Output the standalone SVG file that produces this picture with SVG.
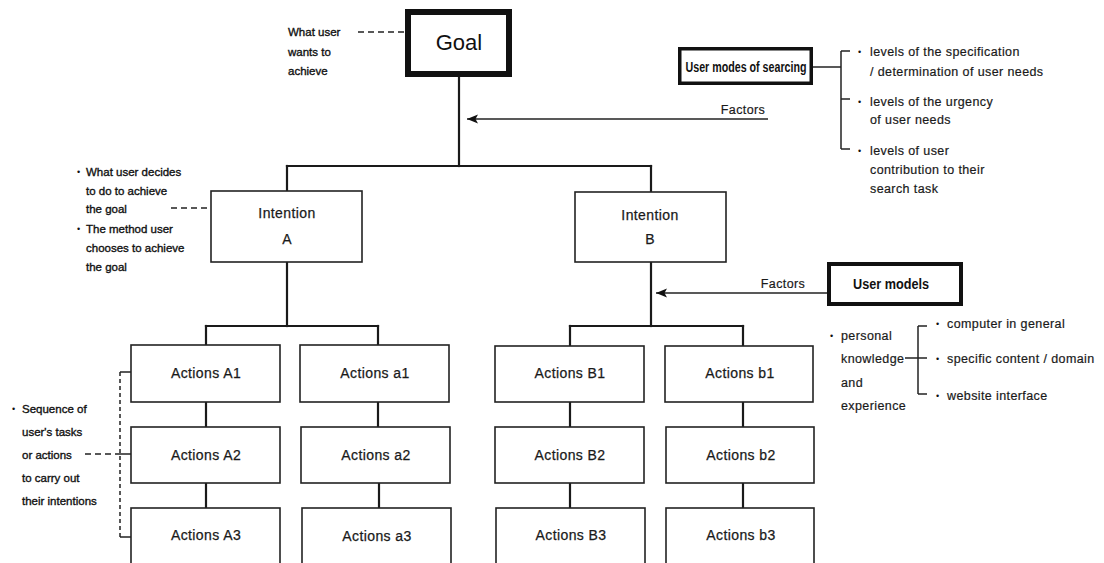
<svg xmlns="http://www.w3.org/2000/svg" width="1104" height="563" viewBox="0 0 1104 563">
  <defs>
    <marker id="arrowhead" markerUnits="userSpaceOnUse" markerWidth="12" markerHeight="10" refX="11" refY="5" orient="auto">
      <path d="M0,0.5 L11,5 L0,9.5 L2.5,5 Z" fill="#111"/>
    </marker>
    <style>
      .box { fill: #fff; stroke: #222; stroke-width: 1.6; }
      .thick { fill: #fff; stroke: #111; }
      .wire { fill: none; stroke: #1a1a1a; stroke-width: 2.2; stroke-linecap: square; }
      .thin { fill: none; stroke: #222; stroke-width: 1.5; }
      .dash { fill: none; stroke: #222; stroke-width: 1.5; stroke-dasharray: 6 4; }
      .vdash { fill: none; stroke: #222; stroke-width: 1.5; stroke-dasharray: 4 3; }
      .label { font-family: "Liberation Sans", Arial, sans-serif; font-size: 14px; letter-spacing: 0.4px; fill: #1a1a1a; stroke: #1a1a1a; stroke-width: 0.25px; text-anchor: middle; }
      .note { font-family: "Liberation Sans", Arial, sans-serif; font-size: 11.5px; fill: #111; stroke: #111; stroke-width: 0.35px; }
      .din { font-family: "Liberation Sans", Arial, sans-serif; font-size: 12.5px; letter-spacing: 0.4px; fill: #1a1a1a; stroke: #1a1a1a; stroke-width: 0.2px; }
      .dot { font-family: "Liberation Sans", Arial, sans-serif; font-size: 9px; fill: #111; }
      .bold { font-family: "Liberation Sans", Arial, sans-serif; font-size: 14.5px; font-weight: bold; fill: #111; text-anchor: middle; }
    </style>
  </defs>

  <rect width="1104" height="563" fill="#fff"/>

  <!-- tree connectors and factor arrows -->
  <g id="connectors">
    <line class="wire" x1="459" y1="77" x2="459" y2="166"/>
    <line class="wire" x1="287" y1="166" x2="651" y2="166"/>
    <line class="wire" x1="287" y1="166" x2="287" y2="191"/>
    <line class="wire" x1="651" y1="166" x2="651" y2="192"/>

    <line class="wire" x1="287" y1="262" x2="287" y2="326"/>
    <line class="wire" x1="206" y1="326" x2="378" y2="326"/>
    <line class="wire" x1="206" y1="326" x2="206" y2="345"/>
    <line class="wire" x1="378" y1="326" x2="378" y2="345"/>

    <line class="wire" x1="651" y1="262" x2="651" y2="326"/>
    <line class="wire" x1="570" y1="326" x2="743" y2="326"/>
    <line class="wire" x1="570" y1="326" x2="570" y2="345"/>
    <line class="wire" x1="743" y1="326" x2="743" y2="345"/>

    <line class="wire" x1="206" y1="402" x2="206" y2="427"/>
    <line class="wire" x1="206" y1="483" x2="206" y2="508"/>
    <line class="wire" x1="378" y1="402" x2="378" y2="427"/>
    <line class="wire" x1="379" y1="483" x2="379" y2="508"/>
    <line class="wire" x1="570" y1="402" x2="570" y2="427"/>
    <line class="wire" x1="570" y1="483" x2="570" y2="508"/>
    <line class="wire" x1="743" y1="402" x2="743" y2="427"/>
    <line class="wire" x1="743" y1="483" x2="743" y2="508"/>

    <!-- factor arrows -->
    <line class="thin" x1="768" y1="119" x2="467" y2="119" stroke-width="2" marker-end="url(#arrowhead)"/>
    <line class="thin" x1="827" y1="293" x2="656" y2="293" stroke-width="2" marker-end="url(#arrowhead)"/>

    <!-- annotation leaders -->
    <line class="dash" x1="358" y1="32" x2="404" y2="32"/>
    <line class="dash" x1="171" y1="208" x2="210" y2="208"/>
    <line class="dash" x1="85" y1="454" x2="120" y2="454"/>
    <line class="vdash" x1="120" y1="372" x2="120" y2="537"/>
    <line class="thin" x1="120" y1="372" x2="131" y2="372"/>
    <line class="thin" x1="120" y1="454" x2="131" y2="454"/>
    <line class="thin" x1="120" y1="537" x2="131" y2="537"/>

    <!-- brackets -->
    <line class="thin" x1="813" y1="67" x2="841" y2="67"/>
    <line class="thin" x1="841" y1="51" x2="841" y2="149"/>
    <line class="thin" x1="841" y1="51" x2="850" y2="51"/>
    <line class="thin" x1="841" y1="99" x2="850" y2="99"/>
    <line class="thin" x1="841" y1="149" x2="850" y2="149"/>

    <line class="thin" x1="905" y1="358" x2="927" y2="358"/>
    <line class="thin" x1="918" y1="326" x2="918" y2="394"/>
    <line class="thin" x1="918" y1="326" x2="927" y2="326"/>
    <line class="thin" x1="918" y1="394" x2="927" y2="394"/>
  </g>

  <g id="goal">
    <rect class="thick" x="408" y="12" width="101" height="62" stroke-width="6"/>
    <text x="459" y="50" font-family="Liberation Sans, Arial, sans-serif" font-size="22" text-anchor="middle" fill="#111">Goal</text>
  </g>

  <g id="goal-note">
    <text class="note" x="288" y="36">What user</text>
    <text class="note" x="288" y="56">wants to</text>
    <text class="note" x="288" y="75">achieve</text>
  </g>

  <g id="user-modes">
    <rect class="thick" x="679.75" y="48.75" width="131.5" height="34.5" stroke-width="3.5"/>
    <text class="bold" x="746" y="72" textLength="121" lengthAdjust="spacingAndGlyphs">User modes of searcing</text>
  </g>

  <g id="user-modes-list">
    <text class="dot" x="858" y="54.5">•</text>
    <text class="din" x="870" y="55.5">levels of the specification</text>
    <text class="din" x="870" y="76">/ determination of user needs</text>
    <text class="dot" x="858" y="104.5">•</text>
    <text class="din" x="870" y="105.5">levels of the urgency</text>
    <text class="din" x="870" y="123.5">of user needs</text>
    <text class="dot" x="858" y="153.5">•</text>
    <text class="din" x="870" y="154.5">levels of user</text>
    <text class="din" x="870" y="173.5">contribution to their</text>
    <text class="din" x="870" y="192.5">search task</text>
  </g>

  <g id="factors-top">
    <text class="din" x="743" y="113.5" text-anchor="middle">Factors</text>
  </g>

  <g id="intention-a">
    <rect class="box" x="211" y="191" width="151" height="71"/>
    <text class="label" x="287" y="218">Intention</text>
    <text class="label" x="287" y="244">A</text>
  </g>

  <g id="intention-a-note">
    <text class="dot" x="77" y="175">•</text>
    <text class="note" x="86" y="176">What user decides</text>
    <text class="note" x="86" y="195">to do to achieve</text>
    <text class="note" x="86" y="213">the goal</text>
    <text class="dot" x="77" y="232">•</text>
    <text class="note" x="86" y="233">The method user</text>
    <text class="note" x="86" y="252">chooses to achieve</text>
    <text class="note" x="86" y="271">the goal</text>
  </g>

  <g id="intention-b">
    <rect class="box" x="575" y="192" width="151" height="70"/>
    <text class="label" x="650" y="220">Intention</text>
    <text class="label" x="650" y="244">B</text>
  </g>

  <g id="user-models">
    <rect class="thick" x="829" y="264" width="132" height="40" stroke-width="4"/>
    <text class="bold" x="891" y="289" textLength="76" lengthAdjust="spacingAndGlyphs">User models</text>
  </g>

  <g id="factors-bottom">
    <text class="din" x="783" y="287.5" text-anchor="middle">Factors</text>
  </g>

  <g id="user-models-list">
    <text class="dot" x="830" y="338.5">•</text>
    <text class="din" x="841" y="339.5">personal</text>
    <text class="din" x="841" y="362.5">knowledge</text>
    <text class="din" x="841" y="386.5">and</text>
    <text class="din" x="841" y="409.5">experience</text>
    <text class="dot" x="936" y="326.5">•</text>
    <text class="din" x="947" y="327.5">computer in general</text>
    <text class="dot" x="936" y="361.5">•</text>
    <text class="din" x="947" y="362.5">specific content / domain</text>
    <text class="dot" x="936" y="398.5">•</text>
    <text class="din" x="947" y="399.5">website interface</text>
  </g>

  <g id="sequence-note">
    <text class="dot" x="12" y="412">•</text>
    <text class="note" x="22" y="413">Sequence of</text>
    <text class="note" x="22" y="436">user's tasks</text>
    <text class="note" x="22" y="459">or actions</text>
    <text class="note" x="22" y="482">to carry out</text>
    <text class="note" x="22" y="505">their intentions</text>
  </g>

  <g id="actions-A1"><rect class="box" x="131" y="345" width="149" height="57"/><text class="label" x="206" y="378">Actions A1</text></g>
  <g id="actions-A2"><rect class="box" x="131" y="427" width="149" height="56"/><text class="label" x="206" y="460">Actions A2</text></g>
  <g id="actions-A3"><rect class="box" x="131" y="508" width="149" height="58"/><text class="label" x="206" y="540">Actions A3</text></g>

  <g id="actions-a1"><rect class="box" x="300" y="345" width="149" height="57"/><text class="label" x="375" y="378">Actions a1</text></g>
  <g id="actions-a2"><rect class="box" x="301" y="427" width="149" height="56"/><text class="label" x="376" y="460">Actions a2</text></g>
  <g id="actions-a3"><rect class="box" x="302" y="508" width="149" height="58"/><text class="label" x="377" y="541">Actions a3</text></g>

  <g id="actions-B1"><rect class="box" x="495" y="346" width="149" height="56"/><text class="label" x="570" y="378">Actions B1</text></g>
  <g id="actions-B2"><rect class="box" x="495" y="427" width="149" height="56"/><text class="label" x="570" y="460">Actions B2</text></g>
  <g id="actions-B3"><rect class="box" x="496" y="508" width="149" height="58"/><text class="label" x="571" y="540">Actions B3</text></g>

  <g id="actions-b1"><rect class="box" x="665" y="346" width="148" height="56"/><text class="label" x="740" y="378">Actions b1</text></g>
  <g id="actions-b2"><rect class="box" x="666" y="427" width="148" height="56"/><text class="label" x="741" y="460">Actions b2</text></g>
  <g id="actions-b3"><rect class="box" x="666" y="508" width="148" height="58"/><text class="label" x="741" y="540">Actions b3</text></g>
</svg>
